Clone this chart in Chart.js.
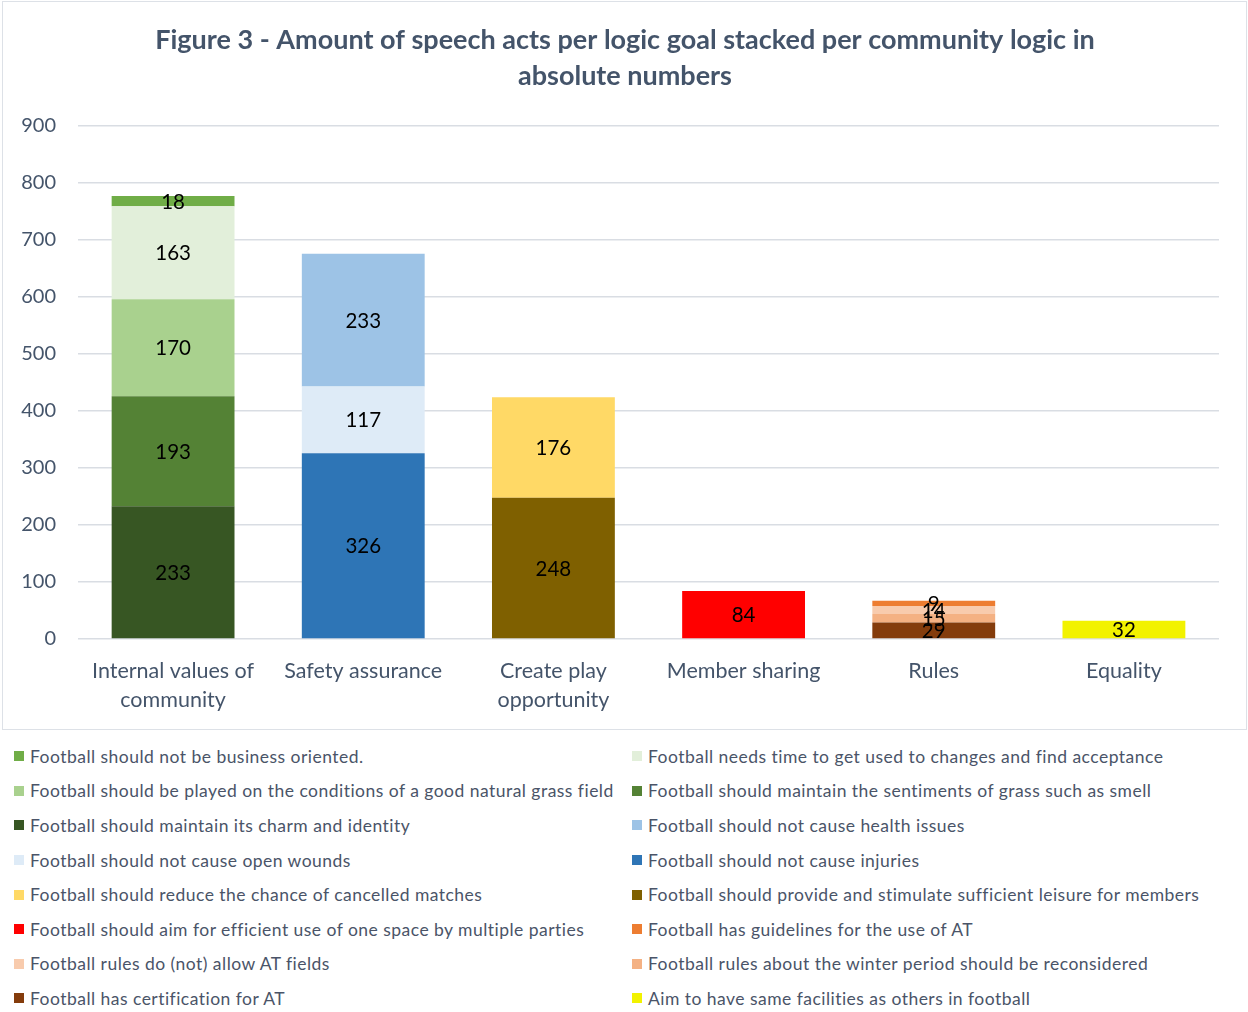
<!DOCTYPE html>
<html>
<head>
<meta charset="utf-8">
<script src="https://cdn.jsdelivr.net/npm/chart.js@4.4.1/dist/chart.umd.min.js"></script>
<style>
  html, body { margin: 0; padding: 0; background: #fff; width: 1248px; height: 1012px; overflow: hidden; }
  #wrap { position: absolute; left: 0; top: 0; width: 1248px; height: 732px; }
  #frame { position: absolute; left: 2px; top: 1px; width: 1243px; height: 727px; border: 1.5px solid #DDE1E7; pointer-events: none; }
  #legend { position: absolute; left: 14px; top: 739px; display: grid; grid-template-columns: 618px 600px; grid-auto-rows: 34.6px; align-items: center; font-family: Lato, "Open Sans", sans-serif; font-size: 17.5px; letter-spacing: 0.47px; color: #4A5468; }
  .item { display: flex; align-items: center; white-space: nowrap; }
  .box { width: 10px; height: 10px; margin-right: 6px; flex: none; }
</style>
</head>
<body>
<div id="wrap"><canvas id="c" width="1248" height="732"></canvas></div>
<div id="frame"></div>
<div id="legend"></div>
<script>
const titleLines = ['Figure 3 - Amount of speech acts per logic goal stacked per community logic in', 'absolute numbers'];
const categories = [['Internal values of', 'community'], 'Safety assurance', ['Create play', 'opportunity'], 'Member sharing', 'Rules', 'Equality'];
const yTicks = [0, 100, 200, 300, 400, 500, 600, 700, 800, 900];

// Series in legend order (first listed = top of its stack)
const seriesLabels = [
  'Football should not be business oriented.',
  'Football needs time to get used to changes and find acceptance',
  'Football should be played on the conditions of a good natural grass field',
  'Football should maintain the sentiments of grass such as smell',
  'Football should maintain its charm and identity',
  'Football should not cause health issues',
  'Football should not cause open wounds',
  'Football should not cause injuries',
  'Football should reduce the chance of cancelled matches',
  'Football should provide and stimulate sufficient leisure for members',
  'Football should aim for efficient use of one space by multiple parties',
  'Football has guidelines for the use of AT',
  'Football rules do (not) allow AT fields',
  'Football rules about the winter period should be reconsidered',
  'Football has certification for AT',
  'Aim to have same facilities as others in football'
];
const seriesValues = [
  [18, null, null, null, null, null],
  [163, null, null, null, null, null],
  [170, null, null, null, null, null],
  [193, null, null, null, null, null],
  [233, null, null, null, null, null],
  [null, 233, null, null, null, null],
  [null, 117, null, null, null, null],
  [null, 326, null, null, null, null],
  [null, null, 176, null, null, null],
  [null, null, 248, null, null, null],
  [null, null, null, 84, null, null],
  [null, null, null, null, 9, null],
  [null, null, null, null, 14, null],
  [null, null, null, null, 15, null],
  [null, null, null, null, 29, null],
  [null, null, null, null, null, 32]
];
const seriesColors = [
  '#70AD47', '#E2EFDA', '#A9D18E', '#548235', '#375623',
  '#9DC3E6', '#DEEBF7', '#2E75B6',
  '#FFD966', '#7F6000',
  '#FF0000',
  '#ED7D31', '#F8CBAD', '#F4B183', '#843C0C',
  '#F2F200'
];

const FONT = 'Lato, "Open Sans", sans-serif';
const TEXT = '#44546A';

// Stack bottom-up: reverse of legend order
const datasets = seriesLabels.map((lab, i) => ({
  label: lab,
  data: seriesValues[i],
  backgroundColor: seriesColors[i],
  borderWidth: 0,
  barPercentage: 0.646,
  categoryPercentage: 1.0,
  legendIndex: i
})).reverse();

const valueLabels = {
  id: 'valueLabels',
  afterDatasetsDraw(chart) {
    const ctx = chart.ctx;
    ctx.save();
    ctx.font = '20.5px ' + FONT;
    ctx.fillStyle = '#000';
    ctx.textAlign = 'center';
    ctx.textBaseline = 'middle';
    chart.data.datasets.forEach((ds, di) => {
      const meta = chart.getDatasetMeta(di);
      meta.data.forEach((el, j) => {
        const v = ds.data[j];
        if (v === null || v === undefined) return;
        const p = el.getProps(['x', 'y', 'base'], true);
        ctx.fillText(String(v), p.x, (p.y + p.base) / 2 + 1);
      });
    });
    ctx.restore();
  }
};

// Title centred on the whole canvas (like the original figure)
const centeredTitle = {
  id: 'centeredTitle',
  afterDraw(chart) {
    const ctx = chart.ctx;
    ctx.save();
    ctx.font = 'bold 27px ' + FONT;
    ctx.fillStyle = TEXT;
    ctx.textAlign = 'center';
    ctx.textBaseline = 'middle';
    titleLines.forEach((line, i) => ctx.fillText(line, chart.width / 2 + 1, 40 + i * 36));
    ctx.restore();
  }
};

const chart = new Chart(document.getElementById('c'), {
  type: 'bar',
  data: { labels: categories, datasets },
  options: {
    responsive: false,
    devicePixelRatio: 1,
    animation: false,
    layout: { padding: { left: 10, right: 29, top: 126, bottom: 0 } },
    plugins: {
      legend: { display: false },
      tooltip: { enabled: false },
      title: { display: false }
    },
    scales: {
      x: {
        stacked: true,
        grid: { display: false },
        border: { display: false },
        ticks: { color: TEXT, font: { family: FONT, size: 21.5, lineHeight: 1.35 }, padding: 10, maxRotation: 0, autoSkip: false },
        afterFit(scale) { scale.height = 93; }
      },
      y: {
        stacked: true,
        min: 0,
        max: 900,
        afterBuildTicks(scale) { scale.ticks = yTicks.map(v => ({ value: v })); },
        grid: { color: '#D9DDE3', lineWidth: 1.5, drawTicks: false },
        border: { display: false },
        ticks: { color: TEXT, font: { family: FONT, size: 20 }, padding: 22 },
        afterFit(scale) { scale.width = 68; }
      }
    }
  },
  plugins: [valueLabels, centeredTitle]
});

// HTML legend in the original (row-major, 2-column) order
const legendEl = document.getElementById('legend');
chart.data.datasets.slice().sort((a, b) => a.legendIndex - b.legendIndex).forEach(ds => {
  const item = document.createElement('div');
  item.className = 'item';
  const box = document.createElement('span');
  box.className = 'box';
  box.style.background = ds.backgroundColor;
  const txt = document.createElement('span');
  txt.textContent = ds.label;
  item.appendChild(box);
  item.appendChild(txt);
  legendEl.appendChild(item);
});
</script>
</body>
</html>
